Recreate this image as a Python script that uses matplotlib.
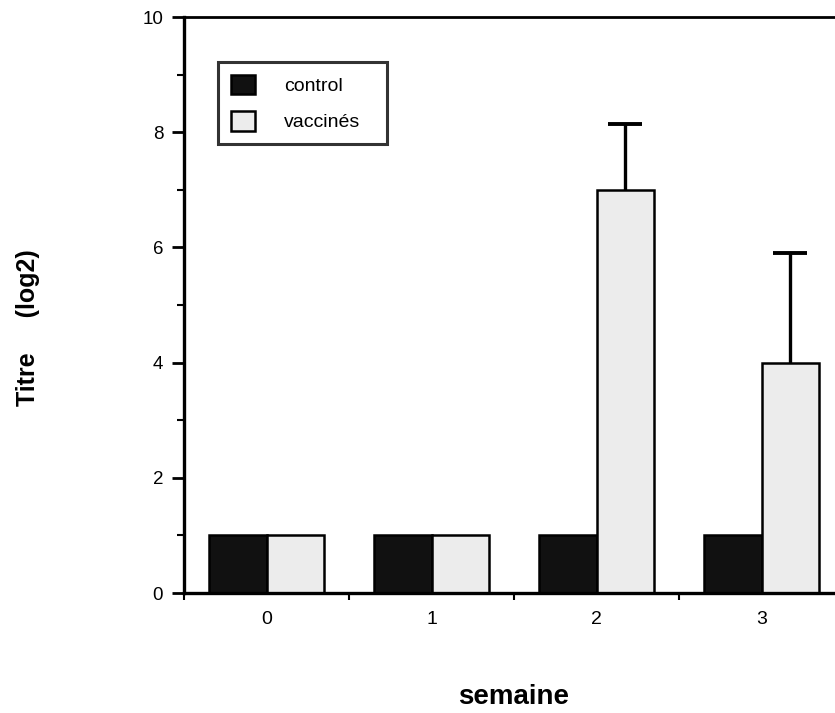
import matplotlib.pyplot as plt
import numpy as np
from matplotlib.ticker import MultipleLocator

plt.rcParams['font.family'] = ['Liberation Sans', 'DejaVu Sans']

semaines = [0, 1, 2, 3]
control = [1, 1, 1, 1]
vaccines = [1, 1, 7, 4]
vaccines_err = [0, 0, 1.15, 1.9]

fig = plt.figure(figsize=(8.35, 7.13), dpi=100)
# axes runs past the right edge, like the scanned original
ax = fig.add_axes([184/835, 1 - 593/713, 660/835, 576/713])

x = np.arange(len(semaines))
w = 0.35
ax.bar(x - w/2, control, w, color='#111111', edgecolor='black', linewidth=1.8, label='control')
ax.bar(x + w/2, vaccines, w, color='#ececec', edgecolor='black', linewidth=1.8, label='vaccinés')

# upper error bars only, where there is an error
err = np.array(vaccines_err)
m = err > 0
_, caps, _ = ax.errorbar((x + w/2)[m], np.array(vaccines)[m], yerr=[np.zeros(m.sum()), err[m]],
                         fmt='none', ecolor='black', elinewidth=2.4, capsize=12, capthick=2.8)
caps[0].set_visible(False)

ax.set_xlim(-0.5, 3.5)
ax.set_ylim(0, 10)
ax.set_xticks(x)
ax.set_xticklabels([str(s) for s in semaines], fontsize=14)
ax.xaxis.set_minor_locator(MultipleLocator(1, offset=0.5))
ax.tick_params(axis='x', which='major', length=0, pad=13)
ax.tick_params(axis='x', which='minor', length=5, width=1.5, direction='out')
ax.yaxis.set_major_locator(MultipleLocator(2))
ax.yaxis.set_minor_locator(MultipleLocator(1))
ax.tick_params(axis='y', which='major', length=9, width=2, labelsize=13.5, pad=6)
ax.tick_params(axis='y', which='minor', length=5, width=1.5)

for s in ['left', 'bottom']:
    ax.spines[s].set_linewidth(2.4)
ax.spines['top'].set_linewidth(2)
ax.spines['right'].set_visible(False)

ax.set_ylabel('Titre     (log2)', fontsize=18, fontweight='bold')
ax.yaxis.set_label_coords(-0.218, 0.46)
ax.set_xlabel('semaine', fontsize=20, fontweight='bold', labelpad=40)

leg = ax.legend(loc='upper left', bbox_to_anchor=(0.0515, 0.5, 0.256, 0.422), mode='expand',
                fontsize=14, frameon=True, fancybox=False, edgecolor='black',
                handlelength=1.25, handleheight=1.2, borderpad=0.65, labelspacing=0.8,
                handletextpad=1.5, borderaxespad=0)
leg.get_frame().set_linewidth(2.2)

fig.savefig('out.png', dpi=100)
